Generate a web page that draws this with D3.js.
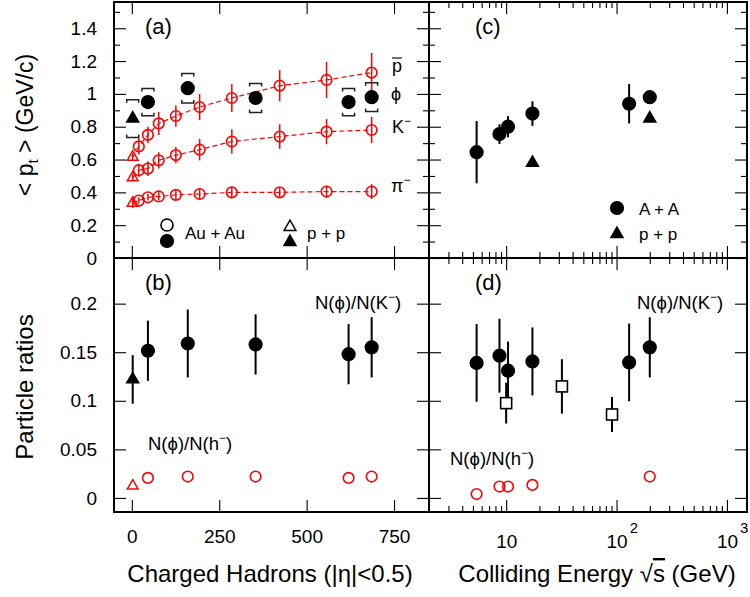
<!DOCTYPE html>
<html>
<head>
<meta charset="utf-8">
<script src="https://cdn.jsdelivr.net/npm/d3@7"></script>
<style>
body { margin: 0; background: #fff; }
text { font-family: "Liberation Sans", Arial, "DejaVu Sans", sans-serif; fill: #000; }
</style>
</head>
<body>
<svg id="fig" width="750" height="597"></svg>
<script>
// ---- panel (a): <pt> vs charged hadrons, Au+Au (open red) ----
const nchAuAu = [20, 46, 77, 126, 194, 286, 423, 557, 686];
const ptPbar = [0.68, 0.75, 0.82, 0.865, 0.92, 0.975, 1.05, 1.085, 1.13];
const ptPbarErr = [0.05, 0.05, 0.07, 0.065, 0.08, 0.085, 0.095, 0.11, 0.12];
const ptKm = [0.535, 0.545, 0.595, 0.627, 0.66, 0.71, 0.74, 0.77, 0.78];
const ptKmErr = [0.04, 0.045, 0.05, 0.05, 0.065, 0.075, 0.075, 0.077, 0.08];
const ptPim = [0.35, 0.37, 0.375, 0.385, 0.39, 0.40, 0.40, 0.405, 0.405];
const ptPimErr = [0.02, 0.02, 0.025, 0.03, 0.034, 0.036, 0.03, 0.036, 0.045];
// p+p reference (open red triangles): pbar, K-, pi-
const nchPP = 2.5;
const ptPP = [0.615, 0.49, 0.335];
const ptPPErr = [0.02, 0.02, 0.03];

// phi in Au+Au (filled) and p+p, with systematic brackets
const nchPhi = [46, 160, 354, 620, 686];
const ptPhi = [0.95, 1.035, 0.975, 0.95, 0.98];
const ptPhiSys = [0.083, 0.09, 0.088, 0.083, 0.088];
const ptPhiPP = 0.85;
const ptPhiPPSys = 0.115;

// ---- panel (b): ratios vs charged hadrons ----
const phiK = [0.1515, 0.159, 0.158, 0.148, 0.155];
const phiKErr = [0.031, 0.035, 0.031, 0.031, 0.031];
const phiKPP = 0.122, phiKPPErr = 0.025;
const phiH = [0.0206, 0.022, 0.022, 0.0206, 0.022];
const phiHPP = 0.0124;

// ---- panel (c): <pt> of phi vs sqrt(s) ----
const sqrtsAA = [5.4, 8.7, 10.4, 17.3, 130, 200];
const ptAA = [0.645, 0.755, 0.80, 0.88, 0.94, 0.98];
const ptAAErr = [0.19, 0.06, 0.065, 0.075, 0.12, 0.0];
const sqrtsPP = [17.3, 200];
const ptPPphi = [0.58, 0.85];

// ---- panel (d): ratios vs sqrt(s) ----
const phiKAA = [0.139, 0.1464, 0.131, 0.1405, 0.1395, 0.155];
const phiKAAErr = [0.04, 0.038, 0.03, 0.035, 0.04, 0.031];
const sqrtsSq = [10, 32, 91];
const phiKSq = [0.0976, 0.1148, 0.0859];
const phiKSqErr = [0.021, 0.028, 0.018];
const sqrtsH = [5.4, 8.7, 10.4, 17.3, 200];
const phiHAA = [0.004, 0.0117, 0.0117, 0.0134, 0.022];

// tick values
const ptMajor = [0, 0.2, 0.4, 0.6, 0.8, 1, 1.2, 1.4];
const ptMinor = [0.1, 0.3, 0.5, 0.7, 0.9, 1.1, 1.3, 1.5];
const ratioMajor = [0, 0.05, 0.1, 0.15, 0.2];
const nchMajor = [0, 250, 500, 750];
const sMajor = [10, 100, 1000];
const sMinor = [3, 4, 5, 6, 7, 8, 9, 20, 30, 40, 50, 60, 70, 80, 90, 200, 300, 400, 500, 600, 700, 800, 900];

const svg = d3.select("#fig");
const RED = "#ff0000";

const xN = d3.scaleLinear().domain([-51, 850]).range([114, 429]);
const xE = d3.scaleLog().domain([2.0, 1520]).range([429, 747]);
const yPt = d3.scaleLinear().domain([0, 1.56]).range([258, 2]);
const yR = d3.scaleLinear().domain([-0.0145, 0.247]).range([512, 258]);

const noLabel = d => "";
const numLabel = d => String(+d.toFixed(2));

function axisGroup(axis, tr) {
    let g = svg.append("g").attr("transform", tr).call(axis);
    g.attr("font-size", 19).attr("font-family", null);
    g.select(".domain").remove();
    g.selectAll(".tick line").attr("stroke", "#000").attr("stroke-width", 1.1);
    return g;
}

function panelTicks(xs, ys, o) {
    let [xl, xr] = xs.range();
    let [yb, yt] = ys.range();
    axisGroup(d3.axisLeft(ys).tickValues(o.yMajor).tickSize(-12).tickPadding(17)
        .tickFormat(o.yLab ? numLabel : noLabel), `translate(${xl},0)`);
    axisGroup(d3.axisRight(ys).tickValues(o.yMajor).tickSize(-12).tickFormat(noLabel), `translate(${xr},0)`);
    if (o.yMinor) {
        axisGroup(d3.axisLeft(ys).tickValues(o.yMinor).tickSize(-6).tickFormat(noLabel), `translate(${xl},0)`);
        axisGroup(d3.axisRight(ys).tickValues(o.yMinor).tickSize(-6).tickFormat(noLabel), `translate(${xr},0)`);
    }
    axisGroup(d3.axisTop(xs).tickValues(o.xMajor).tickSize(-12).tickFormat(noLabel), `translate(0,${yt})`);
    if (o.xMinor) {
        axisGroup(d3.axisTop(xs).tickValues(o.xMinor).tickSize(-6).tickFormat(noLabel), `translate(0,${yt})`);
        axisGroup(d3.axisBottom(xs).tickValues(o.xMinor).tickSize(-6).tickFormat(noLabel), `translate(0,${yb})`);
    }
    return axisGroup(d3.axisBottom(xs).tickValues(o.xMajor).tickSize(-12).tickPadding(o.xPad || 17)
        .tickFormat(o.xLab ? (o.xFmt || numLabel) : noLabel), `translate(0,${yb})`);
}

panelTicks(xN, yPt, {xMajor: nchMajor, yMajor: ptMajor, yMinor: ptMinor, yLab: true});
panelTicks(xN, yR, {xMajor: nchMajor, yMajor: ratioMajor, yLab: true, xLab: true, xPad: 17.5});
panelTicks(xE, yPt, {xMajor: sMajor, xMinor: sMinor, yMajor: ptMajor, yMinor: ptMinor});
let gLog = panelTicks(xE, yR, {xMajor: sMajor, xMinor: sMinor, yMajor: ratioMajor, xLab: true,
    xPad: 22.5, xFmt: d => "10"});
gLog.selectAll(".tick text").each(function (d) {
    let t = d3.select(this).attr("text-anchor", "start").attr("x", -10.5);
    if (d > 10) {
        t.append("tspan").attr("dy", -15).attr("dx", 2).attr("font-size", 15).text(d === 100 ? "2" : "3");
    }
});

// frame
svg.append("rect").attr("x", 114).attr("y", 2).attr("width", 633).attr("height", 510)
    .attr("fill", "none").attr("stroke", "#000").attr("stroke-width", 2);
svg.append("line").attr("x1", 429).attr("x2", 429).attr("y1", 2).attr("y2", 512)
    .attr("stroke", "#000").attr("stroke-width", 2);
svg.append("line").attr("x1", 114).attr("x2", 747).attr("y1", 258).attr("y2", 258)
    .attr("stroke", "#000").attr("stroke-width", 2);

// ---- mark helpers ----
function errBars(xs, ys, xv, yv, ev, color, w) {
    svg.append("g").selectAll("line").data(xv).join("line")
        .attr("x1", d => xs(d)).attr("x2", d => xs(d))
        .attr("y1", (d, i) => ys(yv[i] - ev[i])).attr("y2", (d, i) => ys(yv[i] + ev[i]))
        .attr("stroke", color).attr("stroke-width", w);
}

function circles(xs, ys, xv, yv, r, fill, stroke) {
    svg.append("g").selectAll("circle").data(xv).join("circle")
        .attr("cx", d => xs(d)).attr("cy", (d, i) => ys(yv[i])).attr("r", r)
        .attr("fill", fill).attr("stroke", stroke).attr("stroke-width", 1.6);
}

function triangles(xs, ys, xv, yv, size, fill, stroke) {
    let sym = d3.symbol(d3.symbolTriangle, size);
    svg.append("g").selectAll("path").data(xv).join("path")
        .attr("transform", (d, i) => `translate(${xs(d)},${ys(yv[i])})`)
        .attr("d", sym).attr("fill", fill).attr("stroke", stroke).attr("stroke-width", 1.5);
}

function brackets(xs, ys, xv, yv, sv) {
    svg.append("g").selectAll("path").data(xv).join("path")
        .attr("d", (d, i) => {
            let x = xs(d), t = ys(yv[i] + sv[i]), b = ys(yv[i] - sv[i]);
            return `M${x - 6},${t + 3}V${t}H${x + 6}V${t + 3}M${x - 6},${b - 3}V${b}H${x + 6}V${b - 3}`;
        })
        .attr("fill", "none").attr("stroke", "#222").attr("stroke-width", 1.5);
}

function dashed(xs, ys, xv, yv) {
    svg.append("path").datum(xv)
        .attr("d", d3.line().x(d => xs(d)).y((d, i) => ys(yv[i])))
        .attr("fill", "none").attr("stroke", RED).attr("stroke-width", 1.2)
        .attr("stroke-dasharray", "5,3");
}

function rich(x, y, parts, size, anchor) {
    let t = svg.append("text").attr("x", x).attr("y", y).attr("font-size", size)
        .attr("text-anchor", anchor || "start");
    let shift = 0;
    parts.forEach(p => {
        let s = typeof p === "string" ? {t: p} : p;
        let want = s.dy || 0;
        let ts = t.append("tspan").attr("dy", want - shift).text(s.t);
        if (s.size) ts.attr("font-size", s.size);
        if (s.over) ts.attr("text-decoration", "overline");
        shift = want;
    });
    return t;
}

// ---- panel (a) ----
[[ptPbar, ptPbarErr, ptPP[0], ptPPErr[0]], [ptKm, ptKmErr, ptPP[1], ptPPErr[1]],
 [ptPim, ptPimErr, ptPP[2], ptPPErr[2]]].forEach(s => {
    dashed(xN, yPt, [nchPP].concat(nchAuAu), [s[2]].concat(s[0]));
    errBars(xN, yPt, nchAuAu, s[0], s[1], RED, 1.5);
    errBars(xN, yPt, [nchPP], [s[2]], [s[3]], RED, 1.5);
    circles(xN, yPt, nchAuAu, s[0], 5.3, "none", RED);
    triangles(xN, yPt, [nchPP], [s[2]], 50, "none", RED);
});
brackets(xN, yPt, nchPhi, ptPhi, ptPhiSys);
brackets(xN, yPt, [nchPP], [ptPhiPP], [ptPhiPPSys]);
circles(xN, yPt, nchPhi, ptPhi, 6.3, "#000", "#000");
triangles(xN, yPt, [nchPP], [ptPhiPP], 62, "#000", "#000");

rich(145, 34, ["(a)"], 22);
rich(392, 72, ["p"], 18);
svg.append("line").attr("x1", 392).attr("x2", 402).attr("y1", 58).attr("y2", 58)
    .attr("stroke", "#000").attr("stroke-width", 1.1);
rich(391, 100, ["\u03d5"], 18);
rich(392, 133, ["K", {t: "\u2212", dy: -8, size: 12}], 18);
rich(391, 192, ["\u03c0", {t: "\u2212", dy: -8, size: 12}], 18);

// legend (a)
circles(xN, yPt, [xN.invert(167)], [yPt.invert(225)], 6, "none", "#000");
circles(xN, yPt, [xN.invert(167)], [yPt.invert(241)], 6.3, "#000", "#000");
triangles(xN, yPt, [xN.invert(290)], [yPt.invert(227)], 60, "none", "#000");
triangles(xN, yPt, [xN.invert(290)], [yPt.invert(242)], 62, "#000", "#000");
rich(185, 239, ["Au + Au"], 17);
rich(307, 239, ["p + p"], 17);

// ---- panel (b) ----
errBars(xN, yR, nchPhi, phiK, phiKErr, "#000", 2);
errBars(xN, yR, [nchPP], [phiKPP], [phiKPPErr], "#000", 2);
circles(xN, yR, nchPhi, phiK, 6.3, "#000", "#000");
triangles(xN, yR, [nchPP], [phiKPP], 62, "#000", "#000");
circles(xN, yR, nchPhi, phiH, 5.3, "none", RED);
triangles(xN, yR, [nchPP], [phiHPP], 50, "none", RED);

rich(145, 290, ["(b)"], 22);
rich(315, 309, ["N(\u03d5)/N(K", {t: "\u2212", dy: -8, size: 12}, {t: ")", dy: 0}], 18.5);
rich(148, 450, ["N(\u03d5)/N(h", {t: "\u2212", dy: -8, size: 12}, {t: ")", dy: 0}], 18.5);

// ---- panel (c) ----
errBars(xE, yPt, sqrtsAA, ptAA, ptAAErr, "#000", 2);
circles(xE, yPt, sqrtsAA, ptAA, 6.3, "#000", "#000");
triangles(xE, yPt, sqrtsPP, ptPPphi, 62, "#000", "#000");
rich(475, 34, ["(c)"], 22);
circles(xE, yPt, [xE.invert(617)], [yPt.invert(208)], 6.3, "#000", "#000");
triangles(xE, yPt, [xE.invert(617)], [yPt.invert(234)], 62, "#000", "#000");
rich(639, 215, ["A + A"], 17);
rich(639, 240, ["p + p"], 17);

// ---- panel (d) ----
errBars(xE, yR, sqrtsAA, phiKAA, phiKAAErr, "#000", 2);
errBars(xE, yR, sqrtsSq, phiKSq, phiKSqErr, "#000", 2);
circles(xE, yR, sqrtsAA, phiKAA, 6.3, "#000", "#000");
svg.append("g").selectAll("rect").data(sqrtsSq).join("rect")
    .attr("x", d => xE(d) - 5.5).attr("y", (d, i) => yR(phiKSq[i]) - 5.5)
    .attr("width", 11).attr("height", 11)
    .attr("fill", "#fff").attr("stroke", "#000").attr("stroke-width", 1.6);
circles(xE, yR, sqrtsH, phiHAA, 5.3, "none", RED);
rich(475, 290, ["(d)"], 22);
rich(637, 309, ["N(\u03d5)/N(K", {t: "\u2212", dy: -8, size: 12}, {t: ")", dy: 0}], 18.5);
rich(450, 465, ["N(\u03d5)/N(h", {t: "\u2212", dy: -8, size: 12}, {t: ")", dy: 0}], 18.5);

// ---- axis titles ----
rich(0, 0, ["< p", {t: "t", dy: 5, size: 15}, {t: " > (GeV/c)", dy: 0}], 23, "middle")
    .attr("transform", "translate(33,125) rotate(-90)");
rich(0, 0, ["Particle ratios"], 24, "middle")
    .attr("transform", "translate(33,387) rotate(-90)");
rich(270, 582, ["Charged Hadrons (|\u03b7|<0.5)"], 24, "middle");
rich(597, 582, ["Colliding Energy \u221a", {t: "s", over: true}, " (GeV)"], 24, "middle");
</script>
</body>
</html>
